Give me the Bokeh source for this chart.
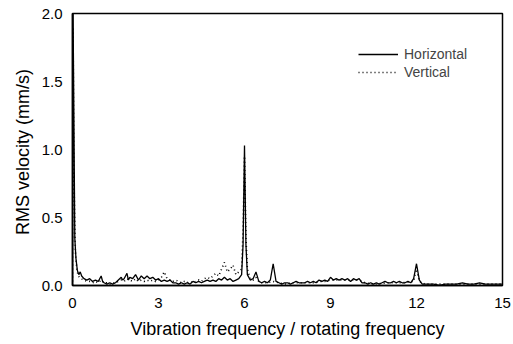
from bokeh.plotting import figure
from bokeh.models import Range1d, FixedTicker, Legend, LegendItem
from bokeh.embed import file_html
from bokeh.resources import INLINE

# Horizontal spectrum (frequency ratio, RMS velocity mm/s)
h_x = [0.0, 0.02, 0.05, 0.08, 0.12, 0.17, 0.22, 0.27, 0.32, 0.4, 0.5, 0.6, 0.7, 0.8, 0.9,
       1.0, 1.05, 1.1, 1.2, 1.3, 1.4, 1.5, 1.6, 1.7, 1.75, 1.8, 1.9, 1.95, 2.0, 2.1, 2.2, 2.3,
       2.4, 2.5, 2.6, 2.7, 2.8, 2.9, 3.0, 3.1, 3.2, 3.3, 3.4, 3.5, 3.6, 3.7, 3.8, 3.9, 4.0,
       4.1, 4.2, 4.3, 4.4, 4.5, 4.6, 4.7, 4.8, 4.9, 5.0, 5.1, 5.2, 5.3, 5.4, 5.5, 5.6, 5.7,
       5.8, 5.9, 5.95, 6.0, 6.05, 6.1, 6.2, 6.3, 6.4, 6.5, 6.6, 6.7, 6.8, 6.9, 7.0, 7.1, 7.2,
       7.3, 7.4, 7.5, 7.6, 7.7, 7.8, 7.9, 8.0, 8.1, 8.2, 8.3, 8.4, 8.5, 8.6, 8.7, 8.8, 8.9,
       9.0, 9.1, 9.2, 9.3, 9.4, 9.5, 9.6, 9.7, 9.8, 9.9, 10.0, 10.1, 10.2, 10.3, 10.4, 10.5,
       10.6, 10.7, 10.8, 10.9, 11.0, 11.1, 11.2, 11.3, 11.4, 11.5, 11.6, 11.7, 11.8, 11.9,
       12.0, 12.1, 12.2, 12.4, 12.6, 12.8, 13.0, 13.2, 13.4, 13.6, 13.8, 14.0, 14.2, 14.4,
       14.6, 14.8, 15.0]
h_y = [0.0, 2.0, 1.2, 0.35, 0.2, 0.11, 0.08, 0.10, 0.07, 0.05, 0.04, 0.05, 0.03, 0.04, 0.03,
       0.07, 0.03, 0.02, 0.01, 0.02, 0.01, 0.02, 0.04, 0.06, 0.04, 0.05, 0.09, 0.04, 0.06, 0.05,
       0.08, 0.04, 0.07, 0.05, 0.07, 0.05, 0.06, 0.04, 0.05, 0.03, 0.04, 0.03, 0.04, 0.02, 0.02,
       0.01, 0.02, 0.01, 0.02, 0.01, 0.03, 0.02, 0.03, 0.02, 0.03, 0.04, 0.03, 0.04, 0.03, 0.05,
       0.04, 0.06, 0.04, 0.05, 0.03, 0.04, 0.05, 0.08, 0.3, 1.03, 0.3, 0.08, 0.04, 0.05, 0.10,
       0.03, 0.02, 0.03, 0.02, 0.04, 0.16, 0.03, 0.02, 0.01, 0.02, 0.02, 0.01, 0.02, 0.03, 0.02,
       0.02, 0.02, 0.03, 0.02, 0.03, 0.02, 0.04, 0.03, 0.04, 0.03, 0.06, 0.04, 0.05, 0.04, 0.05,
       0.04, 0.05, 0.03, 0.05, 0.04, 0.05, 0.02, 0.02, 0.01, 0.02, 0.01, 0.02, 0.01, 0.02, 0.03,
       0.02, 0.02, 0.03, 0.02, 0.03, 0.02, 0.02, 0.03, 0.02, 0.05, 0.16, 0.04, 0.01, 0.01, 0.01,
       0.0, 0.01, 0.01, 0.01, 0.02, 0.01, 0.01, 0.02, 0.01, 0.01, 0.01, 0.01]

# Vertical spectrum
v_x = [0.0, 0.02, 0.05, 0.1, 0.15, 0.2, 0.3, 0.4, 0.5, 0.6, 0.7, 0.8, 0.9, 1.0, 1.1, 1.2,
       1.3, 1.4, 1.5, 1.6, 1.7, 1.8, 1.9, 2.0, 2.1, 2.2, 2.3, 2.4, 2.5, 2.6, 2.7, 2.8, 2.9,
       3.0, 3.1, 3.2, 3.3, 3.4, 3.5, 3.6, 3.7, 3.8, 3.9, 4.0, 4.1, 4.2, 4.3, 4.4, 4.5, 4.6,
       4.7, 4.8, 4.9, 5.0, 5.1, 5.2, 5.3, 5.4, 5.5, 5.6, 5.7, 5.8, 5.9, 5.95, 6.0, 6.05, 6.1,
       6.2, 6.3, 6.4, 6.5, 6.6, 6.8, 7.0, 7.2, 7.4, 7.6, 7.8, 8.0, 8.2, 8.4, 8.6, 8.8, 9.0,
       9.2, 9.4, 9.6, 9.8, 10.0, 10.2, 10.5, 11.0, 11.5, 11.9, 12.0, 12.1, 12.3, 12.6, 13.0,
       13.5, 14.0, 14.5, 15.0]
v_y = [0.0, 1.9, 0.8, 0.25, 0.12, 0.07, 0.05, 0.04, 0.03, 0.03, 0.02, 0.03, 0.02, 0.04, 0.02,
       0.02, 0.01, 0.02, 0.02, 0.03, 0.04, 0.03, 0.05, 0.04, 0.03, 0.05, 0.03, 0.04, 0.03, 0.04,
       0.03, 0.04, 0.03, 0.04, 0.06, 0.10, 0.05, 0.04, 0.03, 0.04, 0.03, 0.02, 0.03, 0.02, 0.03,
       0.02, 0.03, 0.04, 0.03, 0.05, 0.06, 0.05, 0.07, 0.09, 0.07, 0.12, 0.17, 0.10, 0.12, 0.15,
       0.08, 0.10, 0.12, 0.4, 0.95, 0.35, 0.12, 0.05, 0.04, 0.06, 0.03, 0.02, 0.02, 0.03, 0.02,
       0.01, 0.02, 0.02, 0.02, 0.02, 0.02, 0.03, 0.03, 0.04, 0.04, 0.04, 0.04, 0.04, 0.04, 0.02,
       0.01, 0.02, 0.02, 0.03, 0.12, 0.03, 0.01, 0.01, 0.01, 0.01, 0.01, 0.01, 0.01]

x_ticks = [0, 3, 6, 9, 12, 15]
y_ticks = [0.0, 0.5, 1.0, 1.5, 2.0]
series_names = ["Horizontal", "Vertical"]

FONT = "Liberation Sans"

p = figure(width=513, height=344, output_backend="svg", toolbar_location=None,
           x_range=Range1d(0, 15), y_range=Range1d(0, 2.0),
           min_border_left=72, min_border_right=11, min_border_top=13, min_border_bottom=59)
p.background_fill_color = "white"
p.border_fill_color = "white"
p.grid.visible = False
p.outline_line_color = "black"
p.outline_line_width = 1.5

r_h = p.line(h_x, h_y, line_color="black", line_width=1.3)
r_v = p.line(v_x, v_y, line_color="black", line_width=1.6, line_dash="1 3")

for ax in (p.xaxis[0], p.yaxis[0]):
    ax.axis_line_color = "black"
    ax.axis_line_width = 1.5
    ax.major_tick_line_color = None
    ax.minor_tick_line_color = None
    ax.major_label_text_font = FONT
    ax.major_label_text_font_size = "15px"
    ax.major_label_text_color = "black"
    ax.axis_label_text_font = FONT
    ax.axis_label_text_font_size = "18px"
    ax.axis_label_text_font_style = "normal"
    ax.axis_label_text_color = "black"

p.xaxis.ticker = FixedTicker(ticks=x_ticks)
p.yaxis.ticker = FixedTicker(ticks=y_ticks)
p.xaxis.major_label_overrides = {t: str(t) for t in x_ticks}
p.yaxis.major_label_overrides = {t: f"{t:.1f}" for t in y_ticks}
p.xaxis.major_label_standoff = 6
p.yaxis.major_label_standoff = 4
p.xaxis.axis_label = "Vibration frequency / rotating frequency"
p.yaxis.axis_label = "RMS velocity  (mm/s)"
p.xaxis.axis_label_standoff = 8
p.yaxis.axis_label_standoff = 6

legend = Legend(items=[LegendItem(label=series_names[0], renderers=[r_h]),
                       LegendItem(label=series_names[1], renderers=[r_v])],
                location=(286, 204))
legend.border_line_color = None
legend.background_fill_alpha = 0
legend.label_text_font = FONT
legend.label_text_font_size = "14px"
legend.glyph_width = 40
legend.label_standoff = 6
legend.spacing = 0
legend.label_height = 18
legend.glyph_height = 18
legend.padding = 0
legend.margin = 0
p.add_layout(legend)

open("out.html", "w").write(file_html(p, INLINE))
